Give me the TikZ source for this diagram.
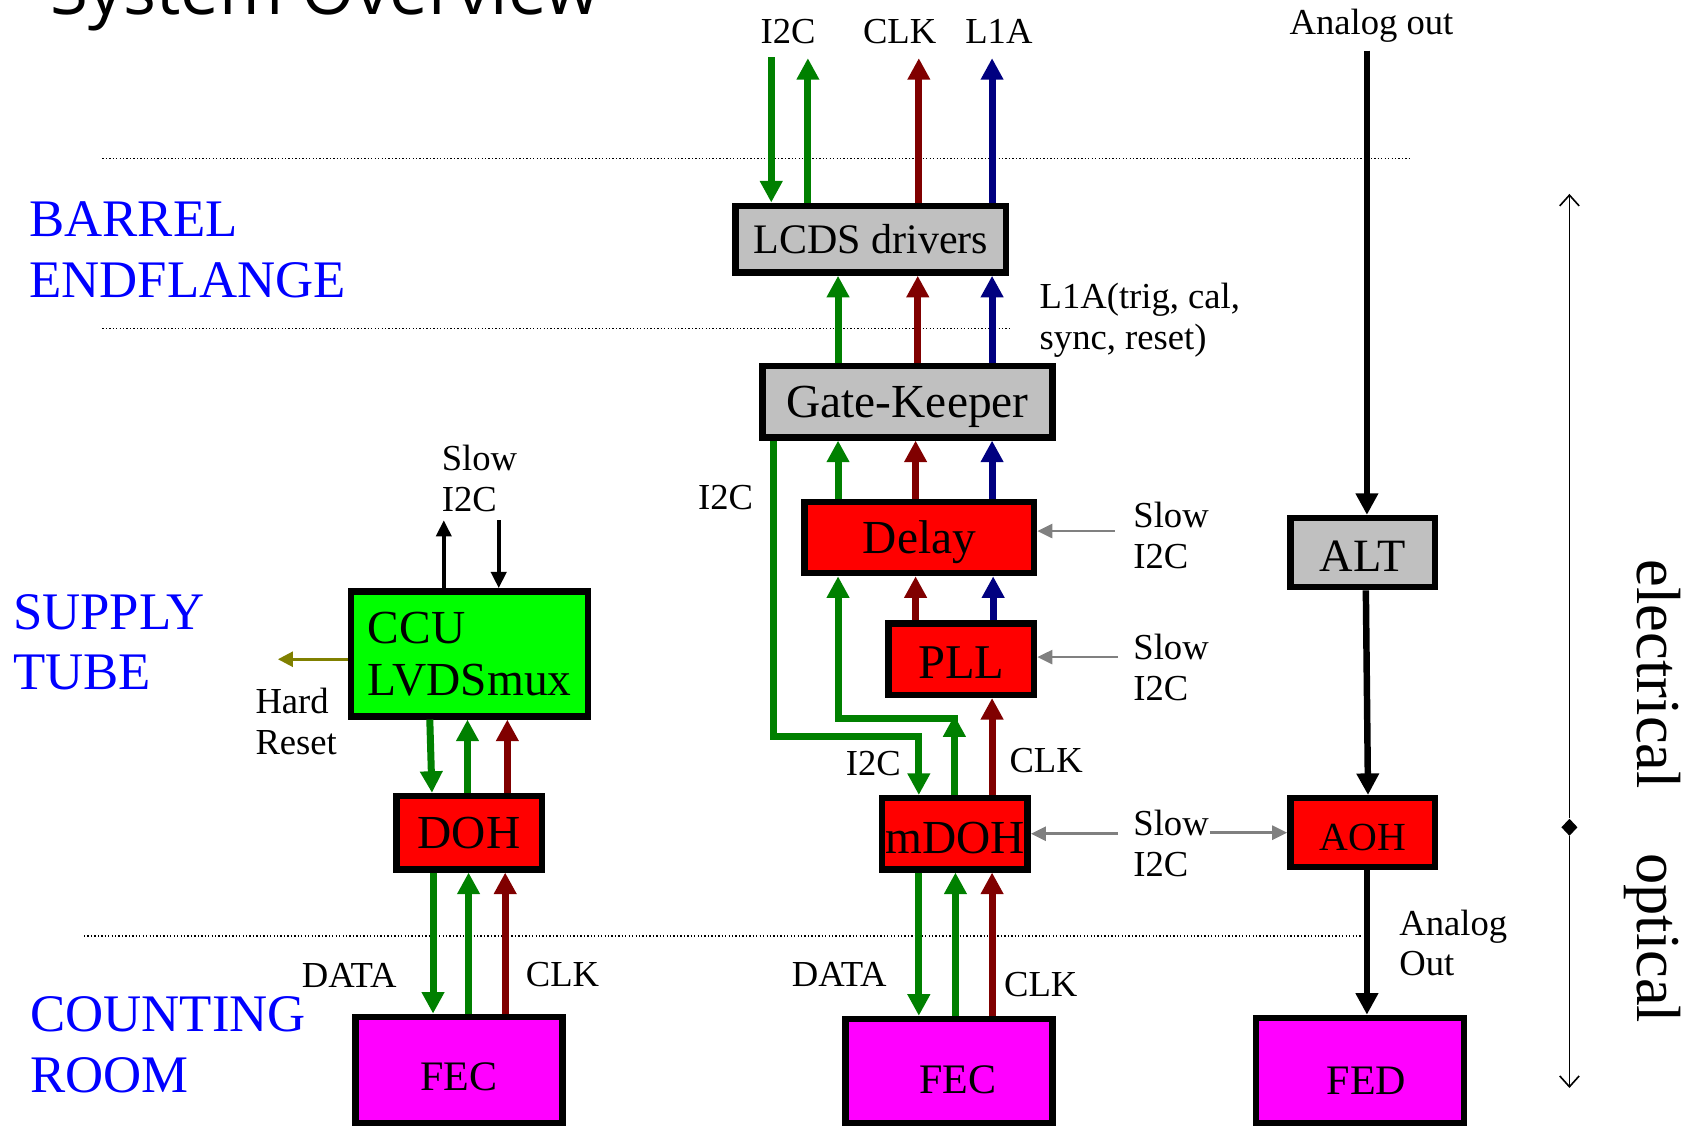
\documentclass[tikz,border=0pt]{standalone}
\usepackage{fontspec}
\setmainfont{Liberation Serif}
\newfontfamily\titlefont{Open Sans}
\usetikzlibrary{arrows.meta,shapes.geometric}
\definecolor{sgreen}{RGB}{0,128,0}
\definecolor{sred}{RGB}{128,0,0}
\definecolor{sblue}{RGB}{0,0,128}
\definecolor{boxgray}{RGB}{192,192,192}
\definecolor{boxred}{RGB}{255,0,0}
\definecolor{boxgreen}{RGB}{0,255,0}
\definecolor{boxmag}{RGB}{255,0,255}
\definecolor{olivec}{RGB}{128,128,0}
\definecolor{lgray}{RGB}{128,128,128}
\definecolor{regblue}{RGB}{0,0,255}
\begin{document}
\begin{tikzpicture}[x=1pt,y=-1pt,
  box/.style={draw=black, line width=6pt, inner sep=0pt, text depth=0pt, align=center},
  lbl/.style={font=\fontsize{34}{38}\selectfont, inner sep=0pt, anchor=base west, align=left},
  region/.style={font=\fontsize{49}{56}\selectfont, text=regblue, inner sep=0pt, anchor=base west, align=left},
  sig/.style={line width=6.5pt, -{Triangle[width=20pt,length=20pt]}},
  sigblk/.style={line width=6pt, draw=black, -{Triangle[width=20pt,length=20pt]}},
  thinblk/.style={line width=3.5pt, draw=black, -{Triangle[width=14pt,length=15pt]}},
  grayarr/.style={draw=lgray, line width=2.5pt, -{Triangle[width=13pt,length=14pt]}},
  olivearr/.style={draw=olivec, line width=2.5pt, -{Triangle[width=14pt,length=14pt]}},
  thinline/.style={draw=black, line width=1.5pt, -{Straight Barb[width=18pt,length=10pt]}},
  divider/.style={draw=black, line width=1.2pt, dash pattern=on 1.2pt off 2pt}
]
\useasboundingbox (0,0) rectangle (1568,1045);

% title (cut at the top)
\node[anchor=base west, inner sep=0pt, font=\titlefont\fontsize{64}{70}\selectfont] (title) at (47,13) {System Overview};

% dividers
\draw[divider] (95,147) -- (1308,147);
\draw[divider] (95,305) -- (937,305);
\draw[divider] (78,869) -- (1265,869);

% region labels (base = last line)
\node[region] (barrel) at (27,276) {BARREL\\ENDFLANGE};
\node[region] (supply) at (12,640) {SUPPLY\\TUBE};
\node[region] (counting) at (28,1014) {COUNTING\\ROOM};

% boxes
\node[box, fill=boxgray, minimum width=251pt, minimum height=62pt, font=\fontsize{39}{44}\selectfont] (lcds) at (808.5,222) {LCDS drivers};
\node[box, fill=boxgray, minimum width=269pt, minimum height=66pt, font=\fontsize{44}{50}\selectfont] (gk) at (842.5,373) {Gate-Keeper};
\node[box, fill=boxred, minimum width=213pt, minimum height=66pt, font=\fontsize{44}{50}\selectfont] (delay) at (853.5,499) {Delay};
\node[box, fill=boxred, minimum width=135pt, minimum height=66pt, font=\fontsize{45}{50}\selectfont, text height=36pt] (pll) at (892.5,612) {PLL};
\node[box, fill=boxred, minimum width=135pt, minimum height=66pt, font=\fontsize{44}{50}\selectfont, text height=36pt] (mdoh) at (886.5,774) {mDOH};
\node[box, fill=boxgray, minimum width=134pt, minimum height=64pt, font=\fontsize{43}{48}\selectfont, text height=36pt] (alt) at (1265,513) {ALT};
\node[box, fill=boxred, minimum width=134pt, minimum height=64pt, font=\fontsize{37}{42}\selectfont, text height=33pt] (aoh) at (1265,773) {AOH};
\node[box, fill=boxmag, minimum width=193pt, minimum height=98pt, font=\fontsize{39}{44}\selectfont, text height=44pt] (fed) at (1262.5,994) {\hspace*{12pt}FED};
\node[box, fill=boxgreen, minimum width=220pt, minimum height=116pt, font=\fontsize{44}{48}\selectfont, align=left] (ccu) at (436,607) {CCU\\LVDSmux};
\node[box, fill=boxred, minimum width=135pt, minimum height=68pt, font=\fontsize{44}{50}\selectfont] (doh) at (435.5,773) {DOH};
\node[box, fill=boxmag, minimum width=192pt, minimum height=99pt, font=\fontsize{39}{44}\selectfont, text height=37pt] (fecL) at (426,993.5) {FEC};
\node[box, fill=boxmag, minimum width=192pt, minimum height=97pt, font=\fontsize{39}{44}\selectfont, text height=41pt] (fecM) at (881,994.5) {\hspace*{16pt}FEC};

% top free ends
\coordinate (i2cInTop) at (716,53);
\coordinate (i2cOutTop) at (750,54);
\coordinate (clkTop) at (853,54);
\coordinate (l1aTop) at (921,54);
\draw[sig, sgreen] (i2cInTop) -- (lcds.north -| i2cInTop);
\draw[sig, sgreen] (lcds.north -| i2cOutTop) -- (i2cOutTop);
\draw[sig, sred] (lcds.north -| clkTop) -- (clkTop);
\draw[sig, sblue] (lcds.north -| l1aTop) -- (l1aTop);

% Gate-Keeper -> LCDS
\draw[sig, sgreen] (gk.north -| 778,0) -- (lcds.south -| 778,0);
\draw[sig, sred] (gk.north -| 852,0) -- (lcds.south -| 852,0);
\draw[sig, sblue] (gk.north -| 921,0) -- (lcds.south -| 921,0);

% Delay -> Gate-Keeper
\draw[sig, sgreen] (delay.north -| 778,0) -- (gk.south -| 778,0);
\draw[sig, sred] (delay.north -| 850,0) -- (gk.south -| 850,0);
\draw[sig, sblue] (delay.north -| 921,0) -- (gk.south -| 921,0);

% PLL -> Delay
\draw[sig, sred] (pll.north -| 850,0) -- (delay.south -| 850,0);
\draw[sig, sblue] (pll.north -| 922,0) -- (delay.south -| 922,0);

% mDOH -> PLL
\draw[sig, sred] (mdoh.north -| 921,0) -- (pll.south -| 921,0);

% I2C Gate-Keeper -> mDOH
\draw[sig, sgreen] (gk.south -| 718,0) -- (718,684) -- (853,684) -- (mdoh.north -| 853,0);
% mDOH -> Delay
\coordinate (bend) at (886,667);
\draw[sig, sgreen] (mdoh.north -| bend) -- (886,664);
\draw[sig, sgreen] (889.25,667) -- (778,667) -- (delay.south -| 778,0);

% CCU slow I2C and hard reset
\coordinate (slowUp) at (412,483);
\coordinate (slowDn) at (463,483);
\draw[thinblk] (ccu.north -| slowUp) -- (slowUp);
\draw[thinblk] (slowDn) -- (ccu.north -| slowDn);
\coordinate (hardR) at (258,612);
\draw[olivearr] (ccu.west |- hardR) -- (hardR);

% CCU <-> DOH
\draw[sig, sgreen] (ccu.south -| 399,0) -- (doh.north -| 401,0);
\draw[sig, sgreen] (doh.north -| 434,0) -- (ccu.south -| 434,0);
\draw[sig, sred] (doh.north -| 471,0) -- (ccu.south -| 471,0);

% DOH <-> FEC
\draw[sig, sgreen] (doh.south -| 402,0) -- (fecL.north -| 402,0);
\draw[sig, sgreen] (fecL.north -| 435,0) -- (doh.south -| 435,0);
\draw[sig, sred] (fecL.north -| 469,0) -- (doh.south -| 469,0);

% mDOH <-> FEC
\draw[sig, sgreen] (mdoh.south -| 853,0) -- (fecM.north -| 853,0);
\draw[sig, sgreen] (fecM.north -| 887,0) -- (mdoh.south -| 887,0);
\draw[sig, sred] (fecM.north -| 921,0) -- (mdoh.south -| 921,0);

% grey slow I2C arrows
\coordinate (sD) at (1035,493);
\draw[grayarr] (sD) -- (delay.east |- sD);
\coordinate (sP) at (1038,610);
\draw[grayarr] (sP) -- (pll.east |- sP);
\coordinate (sM) at (1038,774);
\draw[grayarr] (sM) -- (mdoh.east |- sM);
\coordinate (sA) at (1123,773);
\draw[grayarr] (sA) -- (aoh.west |- sA);

% analog chain
\coordinate (aoTop) at (1269,47);
\draw[sigblk] (aoTop) -- (alt.north -| aoTop);
\draw[sigblk] (alt.south -| 1268,0) -- (aoh.north -| 1270,0);
\draw[sigblk] (aoh.south -| 1269,0) -- (fed.north -| 1269,0);

% electrical / optical
\node[diamond, fill=black, inner sep=0pt, minimum width=15pt, minimum height=16pt] (eo) at (1457,768) {};
\coordinate (eTop) at (1457,180);
\coordinate (oBot) at (1457,1010);
\draw[thinline] (eo) -- (eTop);
\draw[thinline] (eo) -- (oBot);
\node[rotate=-90, anchor=base, inner sep=0pt, font=\fontsize{58}{64}\selectfont] (elec) at (1520,626) {electrical};
\node[rotate=-90, anchor=base, inner sep=0pt, font=\fontsize{58}{64}\selectfont] (opt) at (1520,871) {optical};

% labels (base = last line)
\node[lbl] (tI2C) at (706,40) {I2C};
\node[lbl] (tCLK) at (801,40) {CLK};
\node[lbl] (tL1A) at (896,40) {L1A};
\node[lbl] (tAna) at (1197,32) {Analog out};
\node[lbl] (tL1Afull) at (965,324) {L1A(trig, cal,\\sync, reset)};
\node[lbl] (tI2Cgk) at (648,473) {I2C};
\node[lbl] (tSlowD) at (1052,528) {Slow\\I2C};
\node[lbl] (tSlowP) at (1052,650) {Slow\\I2C};
\node[lbl] (tSlowM) at (1052,814) {Slow\\I2C};
\node[lbl] (tI2Cm) at (785,720) {I2C};
\node[lbl] (tCLKm) at (937,717) {CLK};
\node[lbl] (tDataL) at (280,917) {DATA};
\node[lbl] (tClkL) at (488,916) {CLK};
\node[lbl] (tDataM) at (735,916) {DATA};
\node[lbl] (tClkM) at (932,925) {CLK};
\node[lbl] (tSlowC) at (410,475) {Slow\\I2C};
\node[lbl] (tHard) at (237,700) {Hard\\Reset};
\node[lbl] (tAnaOut) at (1299,906) {Analog\\Out};
\end{tikzpicture}
\end{document}
